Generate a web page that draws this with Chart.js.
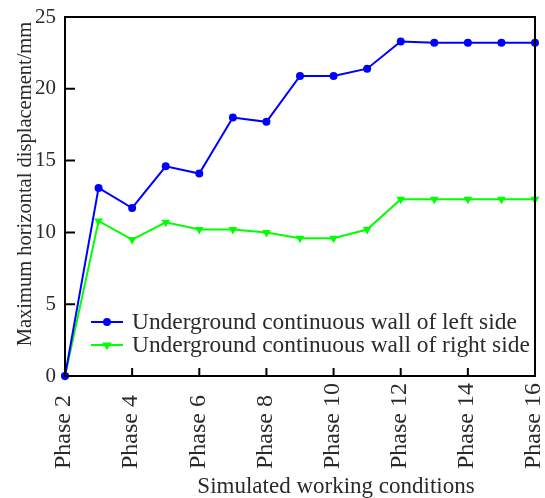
<!DOCTYPE html>
<html>
<head>
<meta charset="utf-8">
<script src="https://cdn.jsdelivr.net/npm/chart.js@4"></script>
<style>
  html, body { margin: 0; padding: 0; background: #fff; }
  #wrap { width: 545px; height: 498px; }
</style>
</head>
<body>
<div id="wrap"><canvas id="myChart" width="545" height="498"></canvas></div>
<script>
const phases = [2, 3, 4, 5, 6, 7, 8, 9, 10, 11, 12, 13, 14, 15, 16];
const leftWall = [0, 13.1, 11.7, 14.6, 14.1, 18.0, 17.7, 20.9, 20.9, 21.4, 23.3, 23.2, 23.2, 23.2, 23.2];
const rightWall = [0, 10.8, 9.5, 10.7, 10.2, 10.2, 10.0, 9.6, 9.6, 10.2, 12.3, 12.3, 12.3, 12.3, 12.3];
const seriesNames = ["Underground continuous wall of left side", "Underground continuous wall of right side"];
const xTitle = "Simulated working conditions";
const yTitle = "Maximum horizontal displacement/mm";
const phaseLabel = v => "Phase " + v;

const serif = "'Liberation Serif', 'Times New Roman', serif";
const textColor = "#2a2a2a";

// frame, inward ticks, x labels (start-aligned), axis titles and the legend inside the plot
const decorations = {
    id: "decorations",
    afterDraw(chart) {
        const ctx = chart.ctx;
        const area = chart.chartArea;
        const xs = chart.scales.x;
        const ys = chart.scales.y;
        ctx.save();

        ctx.strokeStyle = "#000";
        ctx.lineWidth = 2;
        ctx.strokeRect(area.left, area.top, area.right - area.left, area.bottom - area.top);

        ctx.beginPath();
        xs.ticks.forEach(t => {
            const px = xs.getPixelForValue(t.value);
            ctx.moveTo(px, area.bottom);
            ctx.lineTo(px, area.bottom - 8);
        });
        ys.ticks.forEach(t => {
            const py = ys.getPixelForValue(t.value);
            ctx.moveTo(area.left, py);
            ctx.lineTo(area.left + 10, py);
        });
        ctx.stroke();

        ctx.fillStyle = textColor;
        ctx.font = "24px " + serif;
        ctx.textAlign = "left";
        ctx.textBaseline = "middle";
        xs.ticks.forEach(t => {
            const px = xs.getPixelForValue(t.value);
            ctx.save();
            ctx.translate(px - 1, 469);
            ctx.rotate(-Math.PI / 2);
            ctx.fillText(phaseLabel(t.value), 0, 0);
            ctx.restore();
        });

        ctx.font = "23px " + serif;
        ctx.textAlign = "center";
        ctx.textBaseline = "alphabetic";
        ctx.fillText(xTitle, 336, 493);

        ctx.font = "20.5px " + serif;
        ctx.save();
        ctx.translate(31, 184);
        ctx.rotate(-Math.PI / 2);
        ctx.fillText(yTitle, 0, 0);
        ctx.restore();

        // legend
        ctx.font = "23.4px " + serif;
        ctx.textAlign = "left";
        ctx.textBaseline = "middle";
        chart.data.datasets.forEach((ds, i) => {
            const y = 322 + i * 23;
            ctx.strokeStyle = ds.borderColor;
            ctx.fillStyle = ds.borderColor;
            ctx.lineWidth = 2;
            ctx.beginPath();
            ctx.moveTo(91, y);
            ctx.lineTo(123, y);
            ctx.stroke();
            ctx.beginPath();
            if (ds.pointStyle === "triangle") {
                const r = ds.pointRadius;
                ctx.moveTo(107 - r, y - r * 0.5);
                ctx.lineTo(107 + r, y - r * 0.5);
                ctx.lineTo(107, y + r);
            } else {
                ctx.arc(107, y, ds.pointRadius, 0, Math.PI * 2);
            }
            ctx.closePath();
            ctx.fill();
            ctx.fillStyle = textColor;
            ctx.fillText(ds.label, 132, y + 1);
        });

        ctx.restore();
    }
};

new Chart(document.getElementById("myChart"), {
    type: "line",
    data: {
        datasets: [
            {
                label: seriesNames[0],
                data: phases.map((p, i) => ({x: p, y: leftWall[i]})),
                borderColor: "#0000ff",
                backgroundColor: "#0000ff",
                borderWidth: 2,
                pointStyle: "circle",
                pointRadius: 4,
                pointBorderWidth: 0,
                tension: 0,
                clip: 6
            },
            {
                label: seriesNames[1],
                data: phases.map((p, i) => ({x: p, y: rightWall[i]})),
                borderColor: "#00ff00",
                backgroundColor: "#00ff00",
                borderWidth: 2,
                pointStyle: "triangle",
                pointRotation: 180,
                pointRadius: 5,
                pointBorderWidth: 0,
                tension: 0,
                clip: 6
            }
        ]
    },
    plugins: [decorations],
    options: {
        responsive: false,
        animation: false,
        layout: {padding: {top: 17, right: 10, bottom: 0, left: 0}},
        plugins: {
            legend: {display: false},
            tooltip: {enabled: false}
        },
        scales: {
            x: {
                type: "linear",
                min: 2,
                max: 16,
                grid: {display: false, drawTicks: false},
                border: {display: false},
                ticks: {
                    display: false,
                    stepSize: 2,
                    callback: phaseLabel
                },
                afterFit: scale => {
                    scale.height = 122;
                    scale.paddingLeft = 0;
                    scale.paddingRight = 0;
                }
            },
            y: {
                min: 0,
                max: 25,
                grid: {display: false, drawTicks: false},
                border: {display: false},
                ticks: {
                    stepSize: 5,
                    padding: 9,
                    color: textColor,
                    font: {family: serif, size: 21}
                },
                afterFit: scale => {
                    scale.width = 65;
                    scale.paddingTop = 0;
                    scale.paddingBottom = 0;
                }
            }
        }
    }
});
</script>
</body>
</html>
